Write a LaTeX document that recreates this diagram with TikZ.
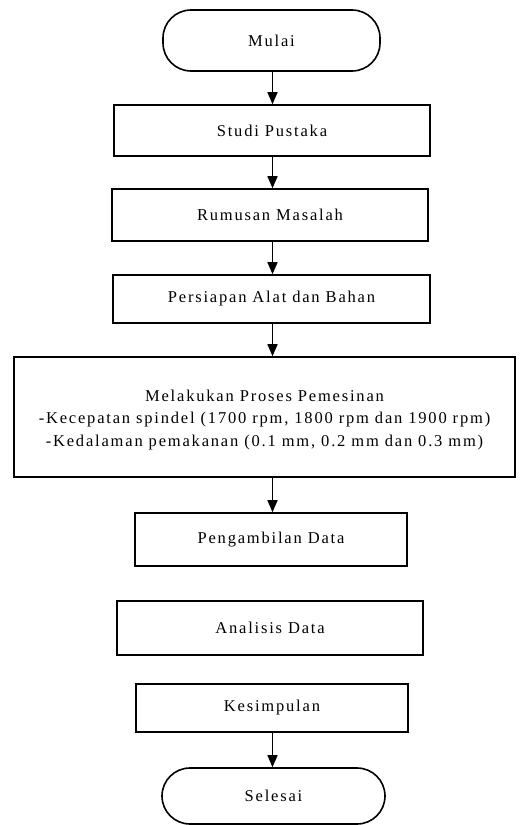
\documentclass[tikz,border=0pt]{standalone}
\usepackage{fontspec}
\setmainfont{Liberation Serif}[LetterSpace=11]
\usetikzlibrary{arrows.meta}
\begin{document}
\begin{tikzpicture}[x=1pt,y=-1pt,
  txt/.style={inner sep=0pt,font=\fontsize{16.5}{22.5}\selectfont,align=center},
  proc/.style={draw,line width=1.6pt,rectangle,txt},
  term/.style={proc,rounded corners=28pt},
  arr/.style={line width=1.6pt,-{Triangle[length=12pt,width=10pt]}}]
\useasboundingbox (0,0) rectangle (524,825);
\node[term,minimum width=217pt,minimum height=61pt] (mulai) at (271.5,40.5) {Mulai};
\node[proc,minimum width=316pt,minimum height=51pt] (studi) at (272,130.5) {Studi Pustaka};
\node[proc,minimum width=316pt,minimum height=52pt] (rumusan) at (270,215) {Rumusan Masalah};
\node[proc,minimum width=317pt,minimum height=48pt] (persiapan) at (271.5,299) {Persiapan Alat dan Bahan};
\node[proc,minimum width=501pt,minimum height=120pt] (proses) at (264.5,417) {};
\node[txt] (prosestext) at ([yshift=-3pt]proses.center) {Melakukan Proses Pemesinan\\-Kecepatan spindel (1700 rpm, 1800 rpm dan 1900 rpm)\\-Kedalaman pemakanan (0.1 mm, 0.2 mm dan 0.3 mm)};
\node[proc,minimum width=272pt,minimum height=53pt] (ambil) at (271,539.5) {Pengambilan Data};
\node[proc,minimum width=306pt,minimum height=54pt] (analisis) at (270,628) {Analisis Data};
\node[proc,minimum width=272pt,minimum height=48pt] (kesimpulan) at (272,708) {Kesimpulan};
\node[term,minimum width=223pt,minimum height=56pt] (selesai) at (273.5,796) {Selesai};
\coordinate (ax) at (272.5,0);
\draw[arr] (ax |- mulai.south) -- (ax |- studi.north);
\draw[arr] (ax |- studi.south) -- (ax |- rumusan.north);
\draw[arr] (ax |- rumusan.south) -- (ax |- persiapan.north);
\draw[arr] (ax |- persiapan.south) -- (ax |- proses.north);
\draw[arr] (ax |- proses.south) -- (ax |- ambil.north);
\draw[arr] (ax |- kesimpulan.south) -- (ax |- selesai.north);
\end{tikzpicture}
\end{document}
